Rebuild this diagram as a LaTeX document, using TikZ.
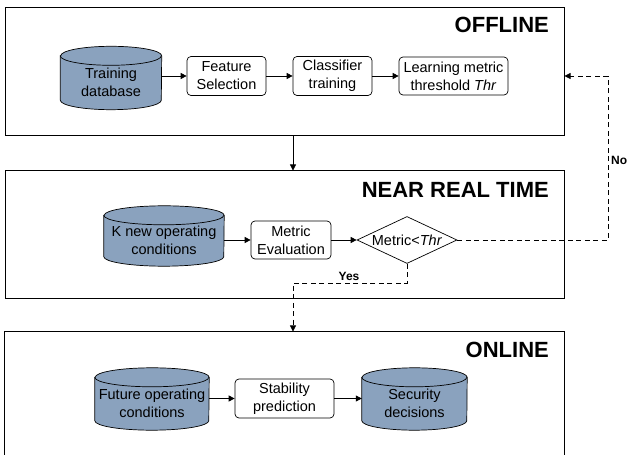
\documentclass[tikz,border=0pt]{standalone}
\usepackage{fontspec}
\setmainfont{Liberation Sans}
\usetikzlibrary{shapes.geometric,arrows.meta,backgrounds}
\definecolor{cylfill}{RGB}{138,162,190}
\tikzset{
  frame/.style={line width=1pt, minimum width=559pt, inner sep=0pt},
  title/.style={anchor=east, inner sep=0pt, font=\fontsize{22}{26}\selectfont\bfseries},
  proc/.style={draw, rounded corners=4pt, line width=0.7pt, fill=white, align=center, inner sep=0pt, font=\fontsize{14.5}{18}\selectfont},
  cylnode/.style={inner sep=0pt, align=center, font=\fontsize{14.5}{18}\selectfont},
  cylline/.style={line width=0.7pt},
  decision/.style={draw, diamond, aspect=2.13, line width=0.7pt, inner sep=0pt, minimum width=100pt, minimum height=47pt, font=\fontsize{14.5}{18}\selectfont},
  arr/.style={-{Triangle[length=6pt,width=6pt]}, line width=0.8pt},
  darr/.style={arr, dash pattern=on 5pt off 3.5pt},
  lab/.style={inner sep=0pt, font=\fontsize{12}{14}\selectfont\bfseries}
}
\newcommand\drawcyl[2]{%
  \draw[cylline,fill=cylfill] (#1.north west) -- ([yshift=9.5pt]#1.south west)
    arc[start angle=180,end angle=360,x radius=#2pt,y radius=9.5pt]
    -- (#1.north east)
    arc[start angle=0,end angle=180,x radius=#2pt,y radius=9.5pt] -- cycle;
  \draw[cylline] (#1.north west) arc[start angle=180,end angle=360,x radius=#2pt,y radius=9.5pt];
}
\begin{document}
\begin{tikzpicture}[x=1pt,y=1pt]
\useasboundingbox (0,0) rectangle (629,455);

% frames
\node[frame, draw, minimum height=128pt] (offline) at (284.5,383) {};
\node[frame, draw, minimum height=128pt] (nrt) at (284.5,220) {};
\node[frame, minimum height=123pt] (online) at (284.5,61.5) {};
\draw[line width=1pt] (online.south west) |- (online.north east) -- (online.south east);

\node[title] (t1) at (549,430) {OFFLINE};
\node[title] (t2) at (549,265) {NEAR REAL TIME};
\node[title] (t3) at (549,105) {ONLINE};

% offline
\node[cylnode, minimum width=101pt, minimum height=53.5pt] (train) at (111,372.25) {Training\\database};
\node[proc, minimum width=79pt, minimum height=39pt] (feat) at (226.5,379) {Feature\\Selection};
\node[proc, minimum width=79pt, minimum height=39pt] (cls) at (332.5,379) {Classifier\\training};
\node[proc, minimum width=109pt, minimum height=38pt] (learn) at (453.5,379) {Learning metric\\threshold \textit{Thr}};

% near real time
\node[cylnode, minimum width=120pt, minimum height=50.5pt] (knew) at (164,214.25) {K new operating\\conditions};
\node[proc, minimum width=80pt, minimum height=38pt] (meval) at (291,215) {Metric\\Evaluation};
\node[decision] (dia) at (407,215) {Metric<\textit{Thr}};

% online
\node[cylnode, minimum width=114pt, minimum height=52.5pt] (future) at (152,51.25) {Future operating\\conditions};
\node[proc, minimum width=99pt, minimum height=39pt] (stab) at (284.5,56.5) {Stability\\prediction};
\node[cylnode, minimum width=105pt, minimum height=52.5pt] (secu) at (414.5,51.25) {Security\\decisions};

\begin{scope}[on background layer]
  \drawcyl{train}{50.5}
  \drawcyl{knew}{60}
  \drawcyl{future}{57}
  \drawcyl{secu}{52.5}
\end{scope}

% coordinates
\coordinate (vx) at (293,0);
\coordinate (yc) at (293,172);
\coordinate (nc) at (608,379);

% arrows
\draw[arr] (train.east |- feat.west) -- (feat.west);
\draw[arr] (feat.east) -- (cls.west);
\draw[arr] (cls.east) -- (learn.west);
\draw[arr] (offline.south -| vx) -- (nrt.north -| vx);
\draw[arr] (knew.east |- meval.west) -- (meval.west);
\draw[arr] (meval.east) -- (dia.west);
\draw[darr] (dia.east) -| (nc) -- (offline.east |- nc);
\draw[darr] (dia.south) |- (yc) -- (online.north -| yc);
\draw[arr] (future.east |- stab.west) -- (stab.west);
\draw[arr] (stab.east) -- (secu.west |- stab.east);

\node[lab, anchor=west] (no) at (611,295) {No};
\node[lab] (yes) at (349,179) {Yes};
\end{tikzpicture}
\end{document}
